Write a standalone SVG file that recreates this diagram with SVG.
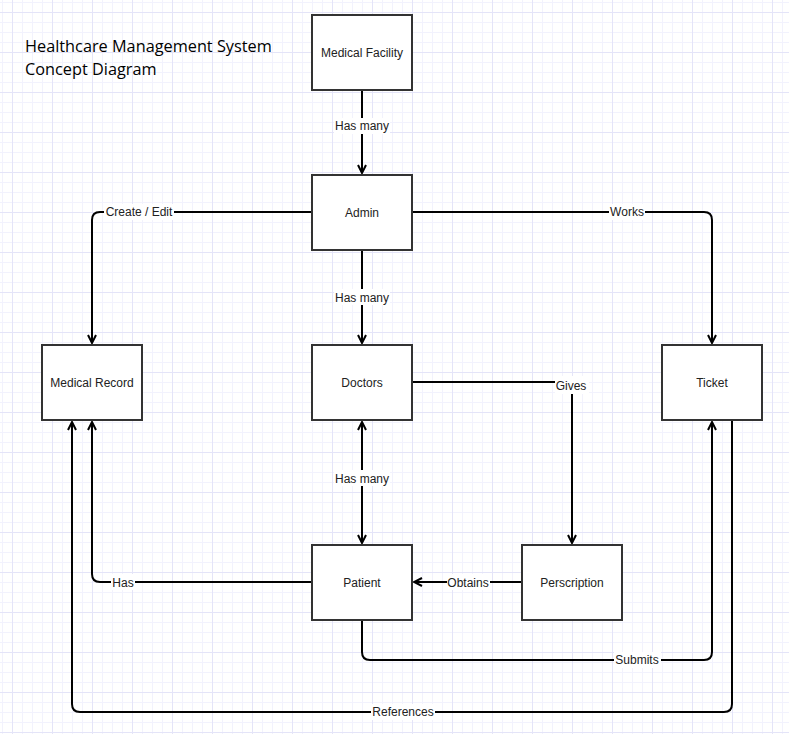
<svg xmlns="http://www.w3.org/2000/svg" width="789" height="734" viewBox="0 0 789 734">
<defs>
<pattern id="grid" x="12" y="12" width="40" height="40" patternUnits="userSpaceOnUse">
<rect x="0" y="0" width="40" height="40" fill="#ffffff"/>
<g fill="#f2f2fd">
<rect x="10" y="0" width="1" height="40"/><rect x="20" y="0" width="1" height="40"/><rect x="30" y="0" width="1" height="40"/>
<rect x="0" y="10" width="40" height="1"/><rect x="0" y="20" width="40" height="1"/><rect x="0" y="30" width="40" height="1"/>
</g>
<g fill="#e4e4f8">
<rect x="0" y="0" width="1" height="40"/><rect x="0" y="0" width="40" height="1"/>
</g>
</pattern>
<marker id="arr" viewBox="0 0 12 12" refX="10" refY="6" markerWidth="12" markerHeight="12" markerUnits="userSpaceOnUse" orient="auto-start-reverse">
<path d="M2,2 L10,6 L2,10" fill="none" stroke="#000" stroke-width="2"/>
</marker>
<style>
.node rect{fill:#fff;stroke:#333;stroke-width:2}
.node text{font-family:"Liberation Sans",Arial,sans-serif;font-size:12px;fill:#222;text-anchor:middle}
.edge{fill:none;stroke:#000;stroke-width:2}
.lbl rect{fill:#fff}
.lbl text{font-family:"Liberation Sans",Arial,sans-serif;font-size:12px;fill:#222;text-anchor:middle}
.title{font-family:"Open Sans","Noto Sans",sans-serif;font-size:16.3px;fill:#000}
</style>
</defs>
<rect x="0" y="0" width="789" height="734" fill="url(#grid)"/>
<text class="title" x="25" y="52">Healthcare Management System</text>
<text class="title" x="25" y="75">Concept Diagram</text>
<g id="connectors">
<path class="edge" d="M362,91 L362,173" marker-end="url(#arr)"/>
<path class="edge" d="M311,212 L100,212 Q92,212 92,220 L92,343" marker-end="url(#arr)"/>
<path class="edge" d="M413,212 L704,212 Q712,212 712,220 L712,343" marker-end="url(#arr)"/>
<path class="edge" d="M362,251 L362,343" marker-end="url(#arr)"/>
<path class="edge" d="M413,382 L572,382 L572,543" marker-end="url(#arr)"/>
<path class="edge" d="M362,422 L362,543" marker-start="url(#arr)" marker-end="url(#arr)"/>
<path class="edge" d="M521,582 L414,582" marker-end="url(#arr)"/>
<path class="edge" d="M311,582 L100,582 Q92,582 92,574 L92,422" marker-end="url(#arr)"/>
<path class="edge" d="M362,621 L362,652 Q362,660 370,660 L704,660 Q712,660 712,652 L712,422" marker-end="url(#arr)"/>
<path class="edge" d="M732,421 L732,704 Q732,712 724,712 L80,712 Q72,712 72,704 L72,422" marker-end="url(#arr)"/>
<g class="lbl">
<rect x="334" y="118" width="56" height="16"/><text x="362" y="130">Has many</text>
<rect x="104" y="204" width="70" height="16"/><text x="139" y="216">Create / Edit</text>
<rect x="609" y="204" width="36" height="16"/><text x="627" y="216">Works</text>
<rect x="334" y="289" width="56" height="16"/><text x="362" y="302">Has many</text>
<rect x="555" y="376" width="34" height="18"/><text x="571" y="390">Gives</text>
<rect x="334" y="470" width="56" height="16"/><text x="362" y="483">Has many</text>
<rect x="447" y="574" width="43" height="16"/><text x="468" y="587">Obtains</text>
<rect x="111" y="574" width="24" height="16"/><text x="123" y="587">Has</text>
<rect x="614" y="652" width="47" height="16"/><text x="637" y="664">Submits</text>
<rect x="371" y="704" width="64" height="16"/><text x="403" y="716">References</text>
</g>
</g>
<g id="medical-facility" class="node"><rect x="312" y="15" width="100" height="75"/><text x="362" y="57">Medical Facility</text></g>
<g id="admin" class="node"><rect x="312" y="175" width="100" height="75"/><text x="362" y="217">Admin</text></g>
<g id="medical-record" class="node"><rect x="42" y="345" width="100" height="75"/><text x="92" y="387">Medical Record</text></g>
<g id="doctors" class="node"><rect x="312" y="345" width="100" height="75"/><text x="362" y="387">Doctors</text></g>
<g id="ticket" class="node"><rect x="662" y="345" width="100" height="75"/><text x="712" y="387">Ticket</text></g>
<g id="patient" class="node"><rect x="312" y="545" width="100" height="75"/><text x="362" y="587">Patient</text></g>
<g id="perscription" class="node"><rect x="522" y="545" width="100" height="75"/><text x="572" y="587">Perscription</text></g>
</svg>
